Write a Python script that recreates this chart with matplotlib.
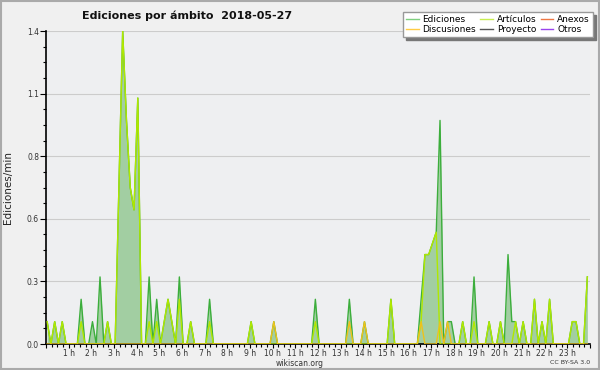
import numpy as np
import matplotlib
matplotlib.use('Agg')
import matplotlib.pyplot as plt
from matplotlib.lines import Line2D
from matplotlib.patches import Rectangle

# 10-minute bins over the day (144 bins); only non-zero bins listed
n_bins = 144
ediciones_bins = [0, 2, 4, 9, 12, 14, 16, 19, 20, 21, 22, 23, 24, 27, 29, 31, 32, 33, 35, 38, 43,
                  54, 60, 71, 80, 84, 91, 99, 100, 101, 102, 103, 104, 106, 107, 110, 113, 117,
                  120, 122, 123, 124, 126, 129, 131, 133, 139, 140, 143]
ediciones_vals = [0.1, 0.1, 0.1, 0.2, 0.1, 0.3, 0.1, 0.7, 1.4, 1.0, 0.7, 0.6, 1.1, 0.3, 0.2, 0.1, 0.2, 0.1, 0.3, 0.1, 0.2,
                  0.1, 0.1, 0.2, 0.2, 0.1, 0.2, 0.2, 0.4, 0.4, 0.45, 0.5, 1.0, 0.1, 0.1, 0.1, 0.3, 0.1,
                  0.1, 0.4, 0.1, 0.1, 0.1, 0.2, 0.1, 0.2, 0.1, 0.1, 0.3]

articulos_bins = [0, 2, 4, 9, 16, 19, 20, 21, 22, 23, 24, 27, 29, 31, 32, 33, 35, 38, 43, 54, 71, 91,
                  99, 100, 101, 102, 103, 110, 113, 117, 120, 124, 126, 129, 131, 133, 139, 140, 143]
articulos_vals = [0.1, 0.1, 0.1, 0.1, 0.1, 0.7, 1.4, 1.0, 0.7, 0.6, 1.1, 0.1, 0.1, 0.1, 0.2, 0.1, 0.2, 0.1, 0.1, 0.1, 0.1, 0.2,
                  0.1, 0.4, 0.4, 0.45, 0.5, 0.1, 0.1, 0.1, 0.1, 0.1, 0.1, 0.2, 0.1, 0.2, 0.1, 0.1, 0.3]

discusiones_bins = [60, 80, 84, 99, 104, 106]
discusiones_vals = [0.1, 0.1, 0.1, 0.1, 0.1, 0.1]

legend_labels = ['Ediciones', 'Discusiones', 'Artículos', 'Proyecto', 'Anexos', 'Otros']
legend_colors = ['#7fcf7f', '#ffcc44', '#c8ee50', '#555555', '#ee7744', '#9944ee']

yticks = [0.0, 0.28, 0.56, 0.84, 1.12, 1.4]
ytick_labels = ['0.0', '0.3', '0.6', '0.8', '1.1', '1.4']
hours = list(range(25))
hour_labels = [''] + [f'{h} h' for h in range(1, 24)] + ['']


def series(bins, vals):
    s = np.zeros(n_bins)
    s[np.array(bins)] = vals
    return s


t = (np.arange(n_bins) + 0.3) / 6.0
E = series(ediciones_bins, ediciones_vals)
A = series(articulos_bins, articulos_vals)
D = series(discusiones_bins, discusiones_vals)

fig = plt.figure(figsize=(6, 3.7), dpi=100, facecolor='#f0f0f0')
ax = fig.add_axes([46 / 600, 1 - 344 / 370, 544 / 600, 313 / 370])
ax.set_facecolor('#eeeff1')

ax.fill_between(t, 0, E, color='#a2cea2', lw=0, zorder=1)
ax.plot(t, E, color='#3cae3c', lw=1.0, zorder=2)
ax.plot(t, A, color='#b0e800', lw=1.0, zorder=3)
ax.plot(t, D, color='#eec21a', lw=1.0, zorder=4)

ax.set_xlim(0, 24)
ax.set_ylim(0, 1.4)
ax.set_yticks(yticks)
ax.set_yticklabels(ytick_labels)
ax.set_yticks(np.arange(0, 1.4001, 0.07), minor=True)
ax.set_xticks(hours)
ax.set_xticklabels(hour_labels)
ax.set_xticks(np.arange(0, 24.001, 0.25), minor=True)
ax.grid(axis='y', which='major', color='#cccccc', lw=0.8, zorder=0)
ax.set_axisbelow(True)
for s in ['top', 'right']:
    ax.spines[s].set_visible(False)
for s in ['left', 'bottom']:
    ax.spines[s].set_color('black')
    ax.spines[s].set_linewidth(1.2)
ax.tick_params(axis='y', which='major', length=4, width=0.8, colors='black',
               labelcolor='#333333', labelsize=5.5, pad=1)
ax.tick_params(axis='x', which='major', length=3, width=0.8, colors='black',
               labelcolor='#333333', labelsize=5.5, pad=0.5)
ax.tick_params(axis='both', which='minor', length=2.5, width=0.8, colors='black')
ax.set_ylabel('Ediciones/min', fontsize=7.5, color='#222222', labelpad=10)

fig.text(0.3125, 0.957, 'Ediciones por ámbito  2018-05-27', fontsize=8, fontweight='bold',
         ha='center', va='center', color='#111111')
fig.text(0.5, 0.018, 'wikiscan.org', fontsize=5.5, ha='center', va='center', color='#333333')
fig.text(0.983, 0.02, 'CC BY-SA 3.0', fontsize=4.5, ha='right', va='center', color='#333333')

handles = [Line2D([], [], color=c, lw=1.0) for c in legend_colors]
fig.legend(handles, legend_labels, ncol=3, loc='upper right', bbox_to_anchor=(0.988, 0.968),
           fontsize=6.5, frameon=True, fancybox=False, shadow={'color': '#777777', 'alpha': 1},
           edgecolor='#999999', framealpha=1, handlelength=1.4, handletextpad=0.4,
           columnspacing=0.5, labelspacing=0.1, borderpad=0.35, borderaxespad=0)

fig.add_artist(Rectangle((0.0015, 0.0025), 0.997, 0.995, transform=fig.transFigure,
                         fill=False, edgecolor='#aaaaaa', lw=1.5))

fig.savefig('out.png', dpi=100, facecolor=fig.get_facecolor())
